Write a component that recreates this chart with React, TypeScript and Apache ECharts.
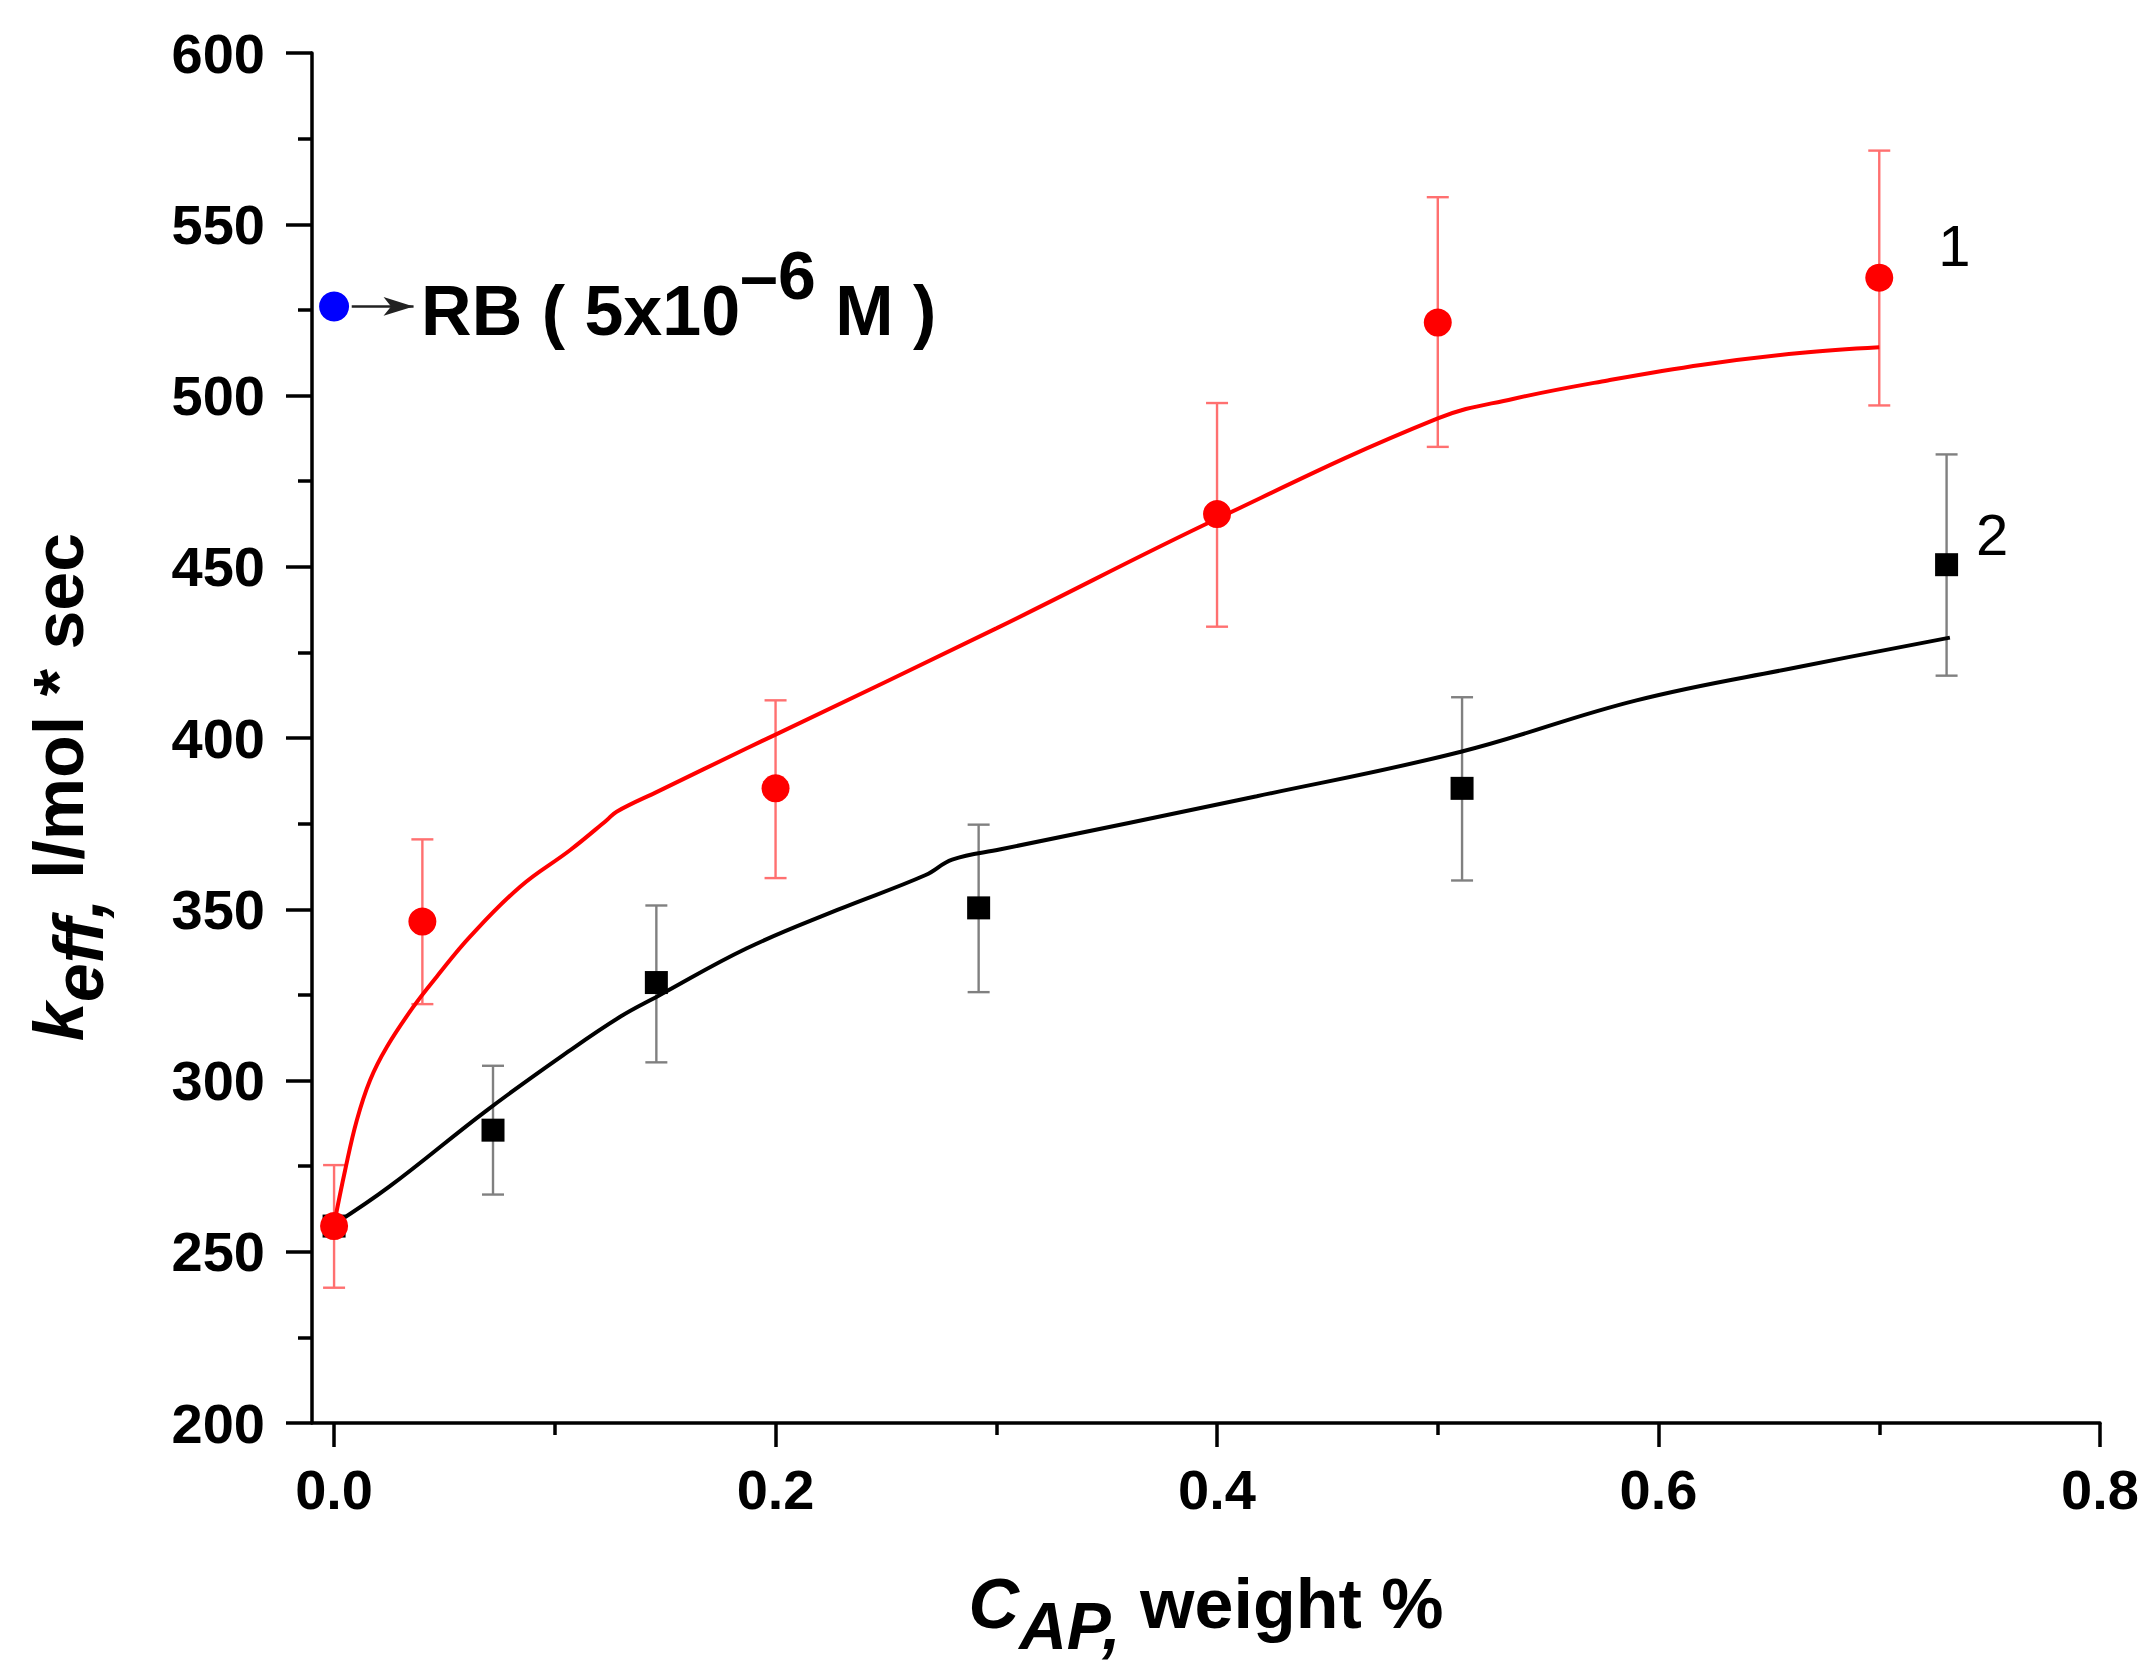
import React, { useEffect, useRef } from 'react';
import * as echarts from 'echarts';

// axis ticks
const xMajorTicks = [0, 0.2, 0.4, 0.6, 0.8];
const xMinorTicks = [0.1, 0.3, 0.5, 0.7];

// curve 1 (red circles) with error bars
const s1X = [0, 0.04, 0.2, 0.4, 0.5, 0.7];
const s1Y = [257.5, 346.4, 385.3, 465.4, 521.3, 534.4];
const s1Low = [239.5, 322.3, 359.1, 432.5, 485, 497.1];
const s1High = [275.3, 370.4, 411, 497.8, 557.9, 571.5];

// curve 2 (black squares) with error bars
const s2X = [0, 0.072, 0.146, 0.292, 0.511, 0.7305];
const s2Y = [257.5, 285.5, 328.6, 350.4, 385.3, 450.6];
const s2Low = [null, 266.7, 305.3, 325.8, 358.4, 418.2];
const s2High = [null, 304.3, 351.1, 374.7, 411.9, 482.8];

// fitted lines
const fit1X = [0, 0.005, 0.0103, 0.0163, 0.0239, 0.0359, 0.0465, 0.0616, 0.0843, 0.107, 0.1235, 0.128, 0.147, 0.187, 0.2, 0.3, 0.4, 0.5, 0.534, 0.577, 0.62, 0.664, 0.7];
const fit1Y = [258, 273.8, 288.4, 300.1, 309.8, 321.5, 330.3, 342, 356.6, 367.3, 376, 378.5, 384.5, 397, 401, 432, 464, 493.3, 499, 504.4, 509, 512.4, 514.1];
const fit2X = [0, 0.025, 0.0692, 0.106, 0.1296, 0.1466, 0.187, 0.228, 0.268, 0.28, 0.302, 0.418, 0.5105, 0.59, 0.664, 0.732];
const fit2Y = [258, 269, 291.3, 308.4, 318.6, 324.6, 338.6, 349.8, 360, 364.5, 367.5, 383, 396, 411, 420.8, 429.3];

// rhodamine B reference point and its arrow
const rbPoint = [0, 526];
const rbArrowX = [0.008, 0.036];

const FONT = '"Liberation Sans", Arial, sans-serif';

const zip = (xs: number[], ys: (number | null)[]) => xs.map((x, i) => [x, ys[i]]);

const errorBars = (color: string) => (params: any, api: any) => {
  const x = api.value(0);
  const lo = api.coord([x, api.value(1)]);
  const hi = api.coord([x, api.value(2)]);
  const cap = 11;
  const style = { stroke: color, lineWidth: 2.4 };
  return {
    type: 'group',
    children: [
      { type: 'line', shape: { x1: lo[0], y1: lo[1], x2: hi[0], y2: hi[1] }, style },
      { type: 'line', shape: { x1: lo[0] - cap, y1: lo[1], x2: lo[0] + cap, y2: lo[1] }, style },
      { type: 'line', shape: { x1: hi[0] - cap, y1: hi[1], x2: hi[0] + cap, y2: hi[1] }, style },
    ],
  };
};

const App: React.FC = () => {
  const chartRef = useRef<HTMLDivElement>(null);

  useEffect(() => {
    if (!chartRef.current) return;
    const chart = echarts.init(chartRef.current, undefined, { renderer: 'svg' });

    const err1 = s1X.map((x, i) => [x, s1Low[i], s1High[i]]);
    const err2 = s2X.map((x, i) => [x, s2Low[i], s2High[i]]).filter(d => d[1] != null);

    const pts1: any[] = zip(s1X, s1Y);
    pts1[pts1.length - 1] = {
      value: pts1[pts1.length - 1],
      label: { show: true, formatter: '1', position: 'right', distance: 45, offset: [0, -32], color: '#000', fontSize: 58, fontFamily: FONT },
    };
    const pts2: any[] = zip(s2X, s2Y);
    pts2[pts2.length - 1] = {
      value: pts2[pts2.length - 1],
      label: { show: true, formatter: '2', position: 'right', distance: 18, offset: [0, -30], color: '#000', fontSize: 58, fontFamily: FONT },
    };

    const tickLabel = { color: '#000', fontSize: 56, fontWeight: 'bold', fontFamily: FONT };

    const option: echarts.EChartsOption = {
      animation: false,
      backgroundColor: '#fff',
      grid: { left: 312, right: 56, top: 53, bottom: 253, containLabel: false },
      xAxis: [
        {
          type: 'value',
          min: -0.01,
          max: 0.8,
          position: 'bottom',
          axisLine: { show: true, onZero: false, lineStyle: { color: '#000', width: 3.5 } },
          axisTick: { show: true, customValues: xMajorTicks, length: 24, lineStyle: { color: '#000', width: 3.5 } },
          axisLabel: { ...tickLabel, customValues: xMajorTicks, margin: 38, formatter: (v: number) => v.toFixed(1) },
          splitLine: { show: false },
          name: '{c|C}{s|AP,}{t| weight %}',
          nameLocation: 'middle',
          nameGap: 146,
          nameTextStyle: {
            rich: {
              c: { fontSize: 70, fontWeight: 'bold', fontStyle: 'italic', fontFamily: FONT, color: '#000', lineHeight: 70, verticalAlign: 'top' },
              s: { fontSize: 66, fontWeight: 'bold', fontStyle: 'italic', fontFamily: FONT, color: '#000', lineHeight: 114 },
              t: { fontSize: 70, fontWeight: 'bold', fontFamily: FONT, color: '#000', lineHeight: 70, verticalAlign: 'top' },
            },
          },
        },
        {
          type: 'value',
          min: -0.01,
          max: 0.8,
          position: 'bottom',
          axisLine: { show: false, onZero: false },
          axisTick: { show: true, customValues: xMinorTicks, length: 12, lineStyle: { color: '#000', width: 3.5 } },
          axisLabel: { show: false },
          splitLine: { show: false },
        },
      ],
      yAxis: {
        type: 'value',
        min: 200,
        max: 600,
        interval: 50,
        axisLine: { show: true, onZero: false, lineStyle: { color: '#000', width: 3.5 } },
        axisTick: { show: true, length: 26, lineStyle: { color: '#000', width: 3.5 } },
        minorTick: { show: true, splitNumber: 2, length: 14, lineStyle: { color: '#000', width: 3.5 } },
        axisLabel: { ...tickLabel, margin: 47 },
        splitLine: { show: false },
        name: '{k|k}{s|eff,}{t| l/mol * sec}',
        nameLocation: 'middle',
        nameRotate: 90,
        nameGap: 178,
        nameTextStyle: {
          padding: [0, 98, 0, 0],
          rich: {
            k: { fontSize: 70, fontWeight: 'bold', fontStyle: 'italic', fontFamily: FONT, color: '#000', lineHeight: 70, verticalAlign: 'top' },
            s: { fontSize: 70, fontWeight: 'bold', fontStyle: 'italic', fontFamily: FONT, color: '#000', lineHeight: 110 },
            t: { fontSize: 70, fontWeight: 'bold', fontFamily: FONT, color: '#000', lineHeight: 70, verticalAlign: 'top' },
          },
        },
      },
      series: [
        {
          type: 'custom',
          name: 'err2',
          renderItem: errorBars('#808080') as any,
          encode: { x: 0, y: [1, 2] },
          data: err2,
          z: 1,
        },
        {
          type: 'line',
          name: 'fit2',
          data: zip(fit2X, fit2Y),
          smooth: 0.4,
          showSymbol: false,
          lineStyle: { color: '#000', width: 4 },
          z: 2,
        },
        {
          type: 'scatter',
          name: '2',
          data: pts2,
          symbol: 'rect',
          symbolSize: 23,
          itemStyle: { color: '#000', opacity: 1 },
          z: 3,
        },
        {
          type: 'custom',
          name: 'err1',
          renderItem: errorBars('#ff7070') as any,
          encode: { x: 0, y: [1, 2] },
          data: err1,
          z: 4,
        },
        {
          type: 'line',
          name: 'fit1',
          data: zip(fit1X, fit1Y),
          smooth: 0.4,
          showSymbol: false,
          lineStyle: { color: '#ff0000', width: 4 },
          z: 5,
        },
        {
          type: 'scatter',
          name: '1',
          data: pts1,
          symbol: 'circle',
          symbolSize: 28,
          itemStyle: { color: '#ff0000', opacity: 1 },
          z: 6,
        },
        {
          type: 'scatter',
          name: 'RB',
          data: [rbPoint],
          symbol: 'circle',
          symbolSize: 30,
          itemStyle: { color: '#0000ff', opacity: 1 },
          z: 7,
          label: {
            show: true,
            position: 'right',
            distance: 72,
            offset: [0, -13],
            color: '#000',
            formatter: '{t|RB ( 5x10}{sup|–6}{t| M )}',
            rich: {
              t: { fontSize: 70, fontWeight: 'bold', fontFamily: FONT, color: '#000', lineHeight: 64, verticalAlign: 'bottom' },
              sup: { fontSize: 68, fontWeight: 'bold', fontFamily: FONT, color: '#000', lineHeight: 105, verticalAlign: 'top' },
            },
          },
          markLine: {
            silent: true,
            symbol: ['none', 'arrow'],
            symbolSize: [14, 30],
            lineStyle: { color: '#222', width: 2.5, type: 'solid' },
            itemStyle: { color: '#000' },
            label: { show: false },
            data: [[{ coord: [rbArrowX[0], rbPoint[1]] }, { coord: [rbArrowX[1], rbPoint[1]] }]] as any,
          },
        },
      ],
    };

    chart.setOption(option);

    return () => {
      chart.dispose();
    };
  }, []);

  return (
    <div
      ref={chartRef}
      style={{ position: 'absolute', left: 0, top: 0, width: 2156, height: 1676, background: '#fff' }}
    />
  );
};

export default App;
